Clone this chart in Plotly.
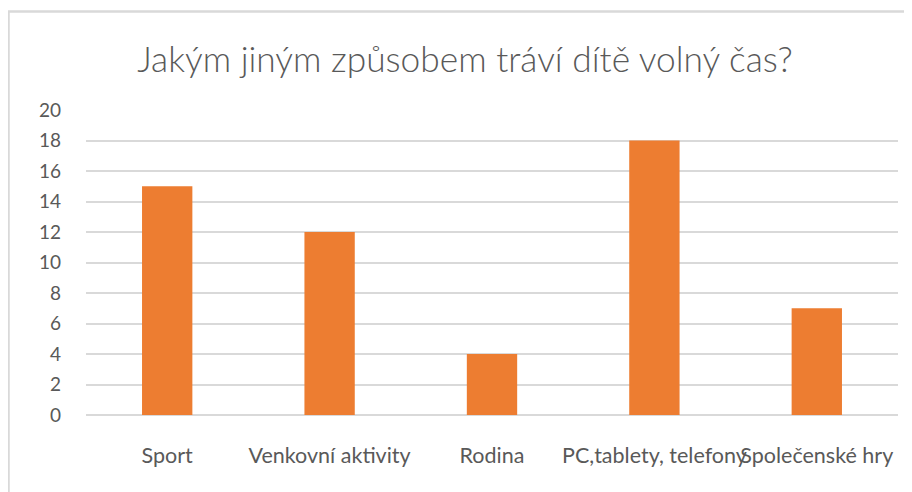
import plotly.graph_objects as go

categories = ["Sport", "Venkovní aktivity", "Rodina", "PC,tablety, telefony", "Společenské hry"]
values = [15, 12, 4, 18, 7]
y_ticks = [0, 2, 4, 6, 8, 10, 12, 14, 16, 18, 20]
title_text = "Jakým jiným způsobem tráví dítě volný čas?"

FONT = "Lato, sans-serif"
GRAY = "#595959"

fig = go.Figure(go.Bar(x=categories, y=values, marker=dict(color="#ED7D31", line=dict(width=0))))

OFF = 8  # page body margin
W, H = 912 - OFF, 492 - OFF
L, R, T, B = 86 - OFF, 898 - OFF, 110 - OFF, 415 - OFF
pw, ph = R - L, B - T

fig.update_layout(
    width=W, height=H,
    margin=dict(l=L, r=W - R, t=T, b=H - B, pad=0, autoexpand=False),
    paper_bgcolor="white", plot_bgcolor="white",
    bargap=0.69,
    showlegend=False,
    title=dict(text=title_text, x=(465 - OFF) / W, xanchor="center", y=1 - (60 - OFF) / H, yanchor="middle",
               yref="container", xref="container",
               font=dict(family=FONT, size=35.3, color=GRAY, weight=300)),
    font=dict(family=FONT, size=19, color=GRAY),
    xaxis=dict(showgrid=False, showline=False, ticks="", tickfont=dict(size=21.5, color=GRAY),
               tickangle=0, automargin=False, ticklabelstandoff=25, fixedrange=True),
    yaxis=dict(range=[0, 20], tickvals=y_ticks, showgrid=True, gridcolor="#d9d9d9", gridwidth=1.5,
               zeroline=True, zerolinecolor="#d9d9d9", zerolinewidth=1.5, showline=False, ticks="",
               automargin=False, tickfont=dict(size=19, color=GRAY), ticklabelstandoff=24, fixedrange=True),
    shapes=[dict(type="rect", xref="paper", yref="paper",
                 x0=(8.5 - OFF - L) / pw, x1=(930 - L) / pw,
                 y0=(B - 520) / ph, y1=(B - (11.5 - OFF)) / ph,
                 line=dict(color="#d9d9d9", width=2.5), fillcolor="rgba(0,0,0,0)", layer="below")],
)

fig.write_html("out.html")
